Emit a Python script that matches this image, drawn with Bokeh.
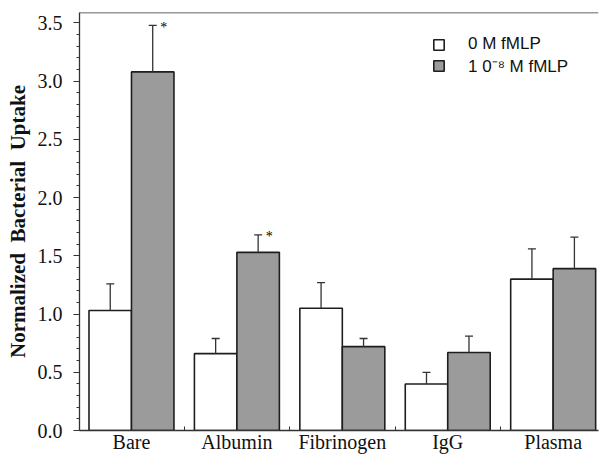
from bokeh.plotting import figure
from bokeh.models import (Range1d, FixedTicker, SingleIntervalTicker, Whisker, TeeHead,
                          ColumnDataSource, Legend, LegendItem, PrintfTickFormatter, Span)
from bokeh.core.properties import value
from bokeh.embed import file_html
from bokeh.resources import INLINE

categories = ["Bare", "Albumin", "Fibrinogen", "IgG", "Plasma"]
control = [1.03, 0.66, 1.05, 0.40, 1.30]
control_err = [0.23, 0.13, 0.22, 0.10, 0.26]
fmlp = [3.08, 1.53, 0.72, 0.67, 1.39]
fmlp_err = [0.40, 0.15, 0.07, 0.14, 0.27]
significant = [True, True, False, False, False]
series_labels = ["0 M fMLP", "1 0\u207B\u2078 M fMLP"]
y_title = "Normalized\u00a0 Bacterial\u00a0 Uptake"

BAR_W = 0.403
Y_MAX = 3.59
positions = list(range(len(categories)))

p = figure(width=600, height=460, x_range=Range1d(-0.493, 4.43), y_range=Range1d(0, Y_MAX),
           output_backend="svg", toolbar_location=None,
           min_border_left=79, min_border_right=2, min_border_top=12, min_border_bottom=30)
p.grid.visible = False
p.outline_line_color = None
p.background_fill_color = "white"
p.border_fill_color = "white"

src_c = ColumnDataSource(dict(x=[i - BAR_W / 2 for i in positions], top=control,
                              upper=[v + e for v, e in zip(control, control_err)]))
src_f = ColumnDataSource(dict(x=[i + BAR_W / 2 for i in positions], top=fmlp,
                              upper=[v + e for v, e in zip(fmlp, fmlp_err)]))

r_c = p.vbar(x="x", top="top", bottom=0, width=BAR_W, source=src_c,
             fill_color="white", line_color="#1e1e1e", line_width=1.6)
r_f = p.vbar(x="x", top="top", bottom=0, width=BAR_W, source=src_f,
             fill_color="#9b9b9b", line_color="#1e1e1e", line_width=1.6)

for src in (src_c, src_f):
    w = Whisker(source=src, base="x", lower="top", upper="upper",
                upper_head=TeeHead(size=8, line_color="#333333", line_width=1.3),
                lower_head=None, line_color="#333333", line_width=1.3, level="glyph")
    p.add_layout(w)

star_x = [i + BAR_W / 2 for i, s in zip(positions, significant) if s]
star_y = [v + e for v, e, s in zip(fmlp, fmlp_err, significant) if s]
p.text(x=star_x, y=star_y, text=["*"] * len(star_x), x_offset=11, y_offset=2,
       text_font=value("Liberation Serif"), text_font_size="14px",
       text_align="center", text_baseline="middle", text_color="#000000")

p.add_layout(Span(location=Y_MAX, dimension="width", line_color="#333333", line_width=1.3))

# x axis
p.xaxis.ticker = FixedTicker(ticks=positions, minor_ticks=[i + 0.5 for i in positions[:-1]])
p.xaxis.major_label_overrides = {i: c for i, c in zip(positions, categories)}
p.xaxis.major_tick_in = 0
p.xaxis.major_tick_out = 0
p.xaxis.minor_tick_in = 4
p.xaxis.minor_tick_out = 0
p.xaxis.major_label_standoff = 0
p.xaxis.major_label_text_font = "Liberation Serif"
p.xaxis.major_label_text_font_size = "20px"
p.xaxis.major_label_text_color = "#111111"
p.xaxis.axis_line_color = "#333333"
p.xaxis.axis_line_width = 1.3
p.xaxis.minor_tick_line_color = "#333333"

# y axis
p.yaxis.ticker = SingleIntervalTicker(interval=0.5, num_minor_ticks=5)
p.yaxis.formatter = PrintfTickFormatter(format="%.1f")
p.yaxis.major_tick_in = 0
p.yaxis.major_tick_out = 6
p.yaxis.minor_tick_in = 0
p.yaxis.minor_tick_out = 3
p.yaxis.major_label_standoff = 11
p.yaxis.major_label_text_font = "Liberation Serif"
p.yaxis.major_label_text_font_size = "20px"
p.yaxis.major_label_text_color = "#111111"
p.yaxis.axis_line_color = "#333333"
p.yaxis.axis_line_width = 1.3
p.yaxis.major_tick_line_color = "#333333"
p.yaxis.minor_tick_line_color = "#333333"
p.yaxis.axis_label = y_title
p.yaxis.axis_label_text_font = "Liberation Serif"
p.yaxis.axis_label_text_font_style = "bold"
p.yaxis.axis_label_text_font_size = "21px"
p.yaxis.axis_label_text_color = "#111111"
p.yaxis.axis_label_standoff = 5

legend = Legend(items=[LegendItem(label=series_labels[0], renderers=[r_c]),
                       LegendItem(label=series_labels[1], renderers=[r_f])],
                location=(353, 353), label_text_font="Liberation Sans",
                label_text_font_size="17px", label_text_color="#111111",
                glyph_width=13, glyph_height=13, label_height=13, spacing=0,
                padding=0, margin=0, border_line_color=None,
                background_fill_alpha=0, label_standoff=23)
p.add_layout(legend)

open("out.html", "w").write(file_html(p, INLINE))
